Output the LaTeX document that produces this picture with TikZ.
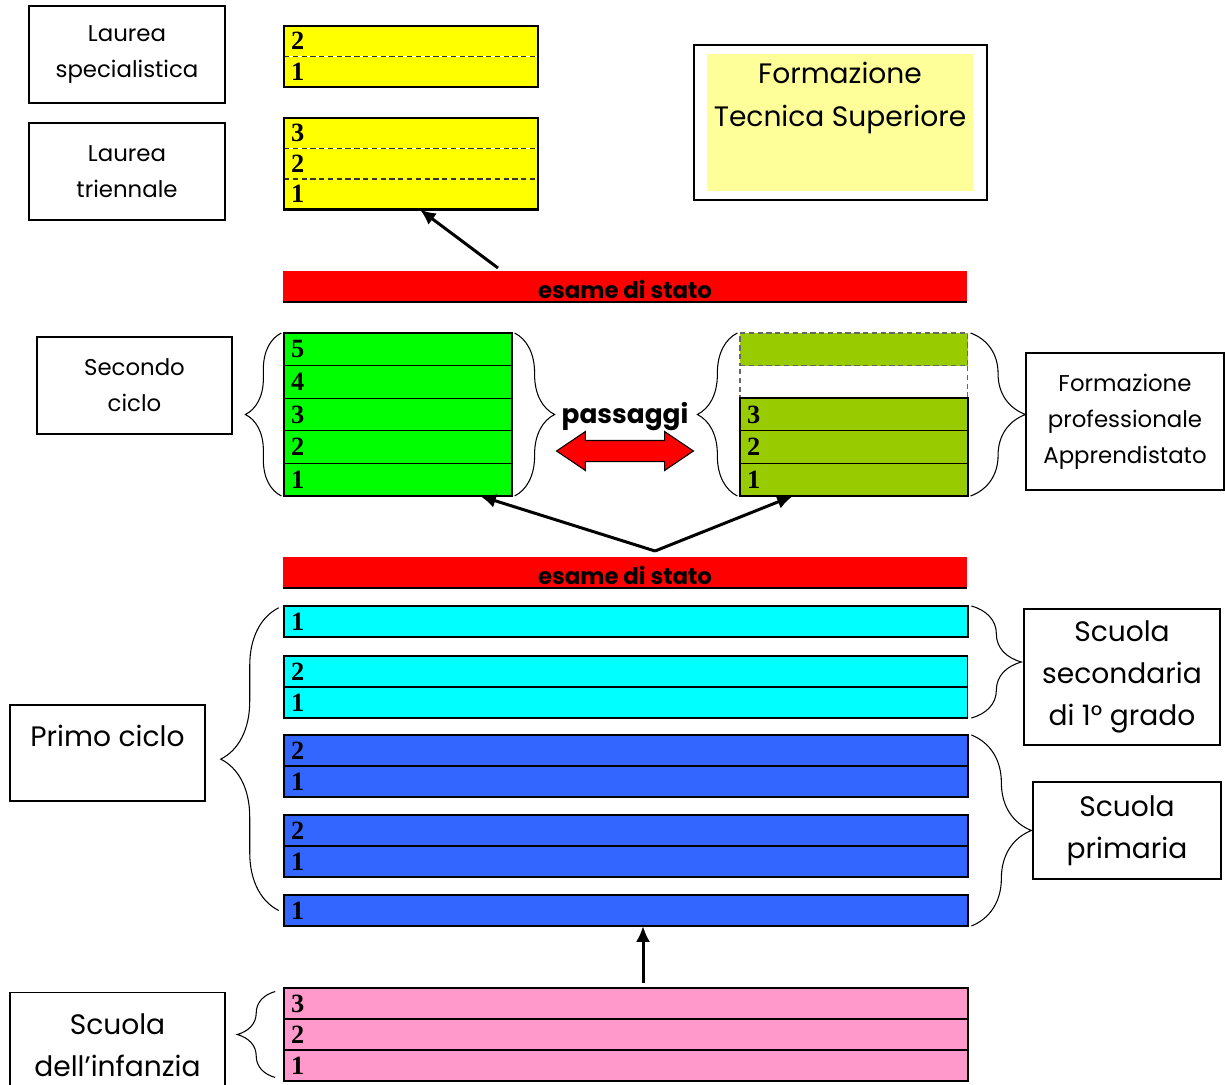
\documentclass[tikz,border=0pt]{standalone}
\usepackage{fontspec}
\setmainfont{Poppins}
\newfontfamily\numfont{Liberation Serif}
\usetikzlibrary{arrows.meta,decorations.pathreplacing,shapes.arrows,calc}
\definecolor{ygold}{HTML}{FFFF00}
\definecolor{paleyellow}{HTML}{FFFF99}
\definecolor{bargreen}{HTML}{00FF00}
\definecolor{barolive}{HTML}{99CC00}
\definecolor{barcyan}{HTML}{00FFFF}
\definecolor{barblue}{HTML}{3366FF}
\definecolor{barpink}{HTML}{FF99CC}
\definecolor{barred}{HTML}{FF0000}
\begin{document}
\begin{tikzpicture}
	[x=0.02cm,y=-0.02cm,
	row/.style={rectangle,fill=#1,draw,line width=0.6pt,minimum height=0.62cm,inner sep=0pt,outer sep=0pt,anchor=north west},
	yel/.style={row=ygold,draw=none,minimum width=5.08cm,minimum height=0.61cm},
	short/.style={row=#1,minimum width=4.56cm,minimum height=0.652cm},
	wide/.style={row=#1,minimum width=13.68cm},
	num/.style={anchor=west,inner xsep=3.8pt,inner ysep=0pt,font=\numfont\bfseries\fontsize{15}{15}\selectfont},
	group/.style={draw,line width=1.2pt},
	divider/.style={line width=1pt,densely dashed,black!80},
	lbox/.style={draw,line width=0.8pt,align=center,inner sep=0pt,font=\fontsize{13}{20.4}\selectfont},
	bigbox/.style={lbox,font=\fontsize{16}{24}\selectfont},
	bigtext/.style={align=center,inner sep=0pt,font=\fontsize{16}{24}\selectfont},
	brace/.style={decorate,decoration={brace,amplitude=#1},line width=0.6pt},
	arr/.style={line width=1.7pt,-{Latex[length=9pt,width=8pt]}},
	esame/.style={anchor=base,yshift=1.8pt,inner sep=0pt,font=\bfseries\fontsize{13}{13}\selectfont}]
	\useasboundingbox (0,0) rectangle (1225,1085);

	% university
	\node[yel,label={[num]west:2}] (ls2) at (284,26) {};
	\node[yel,label={[num]west:1}] (ls1) at (284,56.5) {};
	\draw[divider] (ls2.south west) -- (ls2.south east);
	\draw[group] (ls2.north west) rectangle (ls1.south east);

	\node[yel,label={[num]west:3}] (lt3) at (284,118) {};
	\node[yel,label={[num]west:2}] (lt2) at (284,148.5) {};
	\node[yel,label={[num]west:1}] (lt1) at (284,179) {};
	\draw[divider] (lt3.south west) -- (lt3.south east);
	\draw[divider] (lt2.south west) -- (lt2.south east);
	\draw[group] (lt3.north west) rectangle (lt1.south east);

	\node[lbox,minimum width=3.92cm,minimum height=1.94cm] (laureas) at (127,54.5) {Laurea\\specialistica};
	\node[lbox,minimum width=3.92cm,minimum height=1.94cm] (laureat) at (127,171.5) {Laurea\\triennale};

	\node[draw,line width=0.8pt,minimum width=5.86cm,minimum height=3.1cm] (fts) at (840.5,122.5) {};
	\node[fill=paleyellow,minimum width=5.32cm,minimum height=2.74cm] (ftsin) at (840,122.5) {};
	\node[bigtext] (ftstxt) at (840,98) {Formazione\\Tecnica Superiore};

	% esame di stato
	\node[wide=barred,draw=none,label={[esame]south:esame di stato}] (esame1) at (283,271) {};
	\draw[line width=1pt] (esame1.south west) -- (esame1.south east);
	\coordinate (up) at (498,268);
	\draw[arr] (up) -- ($(lt1.south west)!0.535!(lt1.south east)$);

	% secondo ciclo
	\node[short=bargreen,label={[num]west:5}] (g5) at (284,333) {};
	\node[short=bargreen,label={[num]west:4}] (g4) at (284,365.6) {};
	\node[short=bargreen,label={[num]west:3}] (g3) at (284,398.2) {};
	\node[short=bargreen,label={[num]west:2}] (g2) at (284,430.8) {};
	\node[short=bargreen,label={[num]west:1}] (g1) at (284,463.4) {};
	\draw[group] (g5.north west) rectangle (g1.south east);

	\node[short=barolive,draw=black!60,densely dashed] (o5) at (740,333) {};
	\node[short=white,draw=black!60,densely dashed] (o4) at (740,365.6) {};
	\node[short=barolive,label={[num]west:3}] (o3) at (740,398.2) {};
	\node[short=barolive,label={[num]west:2}] (o2) at (740,430.8) {};
	\node[short=barolive,label={[num]west:1}] (o1) at (740,463.4) {};
	\draw[group] (o3.north west) rectangle (o1.south east);

	\node[lbox,minimum width=3.9cm,minimum height=1.94cm] (secondo) at (134.5,385.5) {Secondo\\ciclo};
	\node[lbox,minimum width=3.96cm,minimum height=2.74cm] (formprof) at (1125,421.5) {Formazione\\professionale\\Apprendistato};

	\draw[brace=0.72cm] ([xshift=-1.5pt]g1.south west) -- ([xshift=-1.5pt]g5.north west);
	\draw[brace=0.8cm] ([xshift=1.5pt]g5.north east) -- ([xshift=1.5pt]g1.south east);
	\draw[brace=0.8cm] ([xshift=-1.5pt]o1.south west) -- ([xshift=-1.5pt]o5.north west);
	\draw[brace=1.1cm] ([xshift=1.5pt]o5.north east) -- ([xshift=1.5pt]o1.south east);

	\node[inner sep=0pt,font=\bfseries\fontsize{15}{18}\selectfont] (pass) at (625,417) {passaggi};
	\node[double arrow,fill=barred,draw,line width=0.6pt,inner xsep=0pt,inner ysep=0.2cm,minimum height=2.74cm,
		double arrow head extend=0.18cm,double arrow tip angle=68] (swap) at (625,451) {};

	\coordinate (fork) at (655,551);
	\draw[arr] (fork) -- ($(g1.south west)!0.86!(g1.south east)$);
	\draw[arr] (fork) -- ($(o1.south west)!0.232!(o1.south east)$);

	\node[wide=barred,draw=none,label={[esame]south:esame di stato}] (esame2) at (283,557) {};
	\draw[line width=1pt] (esame2.south west) -- (esame2.south east);

	% primo ciclo
	\node[wide=barcyan,label={[num]west:1}] (c0) at (284,606) {};
	\draw[group] (c0.north west) rectangle (c0.south east);
	\node[wide=barcyan,label={[num]west:2}] (c2) at (284,656) {};
	\node[wide=barcyan,label={[num]west:1}] (c1) at (284,687) {};

	\node[wide=barblue,label={[num]west:2}] (b4) at (284,735) {};
	\node[wide=barblue,label={[num]west:1}] (b3) at (284,766) {};
	\draw[group] (b4.north west) rectangle (b3.south east);
	\node[wide=barblue,label={[num]west:2}] (b2) at (284,815) {};
	\node[wide=barblue,label={[num]west:1}] (b1) at (284,846) {};
	\draw[group] (b2.north west) rectangle (b1.south east);
	\node[wide=barblue,label={[num]west:1}] (b0) at (284,895) {};
	\draw[group] (b0.north west) rectangle (b0.south east);

	\node[lbox,minimum width=3.9cm,minimum height=1.92cm] (primo) at (107.5,753) {};
	\node[bigtext] (primotxt) at (107.5,736) {Primo ciclo};
	\node[bigbox,minimum width=3.92cm,minimum height=2.72cm] (secondaria) at (1122,677) {Scuola\\secondaria\\di 1° grado};
	\node[bigbox,minimum width=3.76cm,minimum height=1.94cm] (primaria) at (1127,830.5) {Scuola\\primaria};

	\draw[brace=1.16cm] ([xshift=-3pt]b0.west) -- ([xshift=-3pt,yshift=-1pt]c0.north west);
	\draw[brace=1cm] ([xshift=2pt]c0.north east) -- ([xshift=2pt]c1.south east);
	\draw[brace=1.2cm] ([xshift=2pt]b4.north east) -- ([xshift=2pt]b0.south east);

	% infanzia
	\node[wide=barpink,label={[num]west:3}] (p3) at (284,988) {};
	\node[wide=barpink,label={[num]west:2}] (p2) at (284,1019) {};
	\node[wide=barpink,label={[num]west:1}] (p1) at (284,1050) {};
	\draw[group] (p3.north west) rectangle (p1.south east);

	\node[bigbox,minimum width=4.3cm,minimum height=2.1cm] (infanzia) at (117.5,1045) {Scuola\\dell’infanzia};
	\draw[brace=0.76cm] ([xshift=-5pt,yshift=2pt]p1.south west) -- ([xshift=-5pt,yshift=-2pt]p3.north west);

	\draw[arr] ([yshift=3pt]$(p3.north west)!0.525!(p3.north east)$) -- ($(b0.south west)!0.525!(b0.south east)$);
\end{tikzpicture}
\end{document}
